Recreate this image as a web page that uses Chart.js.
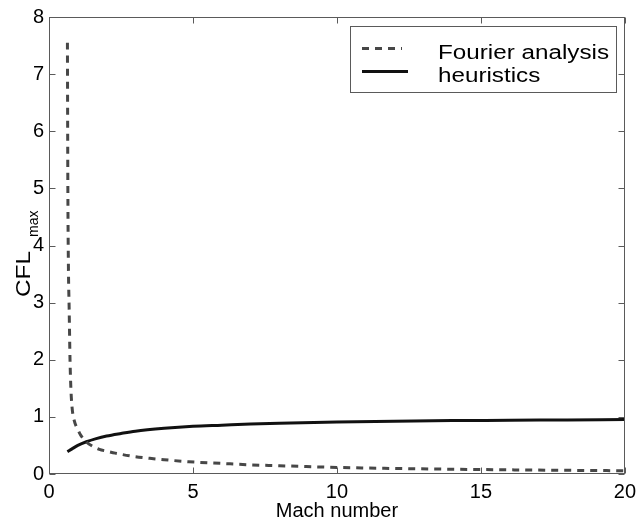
<!DOCTYPE html>
<html>
<head>
<meta charset="utf-8">
<script src="https://cdn.jsdelivr.net/npm/chart.js@4.4.1/dist/chart.umd.min.js"></script>
<style>
  html, body { margin: 0; padding: 0; background: #fff; }
  #wrap { width: 642px; height: 523px; }
</style>
</head>
<body>
<div id="wrap"><canvas id="cflChart" width="642" height="523"></canvas></div>
<script>
// Stability limit vs Mach number
const machFourier = [0.64, 0.655, 0.675, 0.70, 0.73, 0.76, 0.80, 0.88, 1.0, 1.1, 1.3, 1.5, 1.75, 2.0, 2.3, 2.9, 3.5, 4.0, 4.85, 6.0, 7.0, 8.0, 10.0, 12.0, 14.0, 16.0, 18.0, 20.0];
const cflFourier  = [7.55, 5.0, 3.6, 2.9, 2.0, 1.5, 1.17, 0.93, 0.78, 0.68, 0.56, 0.49, 0.43, 0.40, 0.365, 0.31, 0.275, 0.25, 0.215, 0.185, 0.16, 0.145, 0.115, 0.097, 0.083, 0.073, 0.064, 0.057];

const machHeur = [0.64, 0.8, 1.0, 1.3, 1.64, 2.0, 2.5, 3.0, 4.0, 5.0, 6.0, 7.0, 8.0, 10.0, 12.0, 14.0, 16.0, 18.0, 20.0];
const cflHeur  = [0.39, 0.44, 0.50, 0.565, 0.62, 0.665, 0.71, 0.75, 0.80, 0.835, 0.855, 0.875, 0.89, 0.91, 0.925, 0.935, 0.94, 0.947, 0.953];

const xTicks = [0, 5, 10, 15, 20];
const yTicks = [0, 1, 2, 3, 4, 5, 6, 7, 8];
const seriesLabels = ['Fourier analysis', 'heuristics'];

const FONT = '"Liberation Sans", Arial, Helvetica, sans-serif';
const BOX = '#5a5a5a';

function zip(xs, ys) {
    return xs.map((x, i) => ({ x: x, y: ys[i] }));
}

// text stretched horizontally to a given width
function stretchedText(ctx, text, x, y, width) {
    const w = ctx.measureText(text).width;
    ctx.save();
    ctx.translate(x, y);
    ctx.scale(width / w, 1);
    ctx.fillText(text, 0, 0);
    ctx.restore();
}

const framePlugin = {
    id: 'frame',
    afterDraw(chart) {
        const ctx = chart.ctx;
        const a = chart.chartArea;
        const xs = chart.scales.x, ys = chart.scales.y;
        const L = Math.round(a.left) + 0.5, R = Math.round(a.right) - 0.5;
        const T = Math.round(a.top) + 0.5, B = Math.round(a.bottom) - 0.5;

        ctx.save();
        ctx.strokeStyle = BOX;
        ctx.lineWidth = 1;
        ctx.setLineDash([]);
        ctx.strokeRect(L, T, R - L, B - T);

        // inward ticks on all four sides
        const tl = 6;
        ctx.beginPath();
        xTicks.forEach(v => {
            const px = Math.round(xs.getPixelForValue(v)) + 0.5;
            ctx.moveTo(px, B); ctx.lineTo(px, B - tl);
            ctx.moveTo(px, T); ctx.lineTo(px, T + tl);
        });
        yTicks.forEach(v => {
            const py = Math.round(ys.getPixelForValue(v)) + 0.5;
            ctx.moveTo(L, py); ctx.lineTo(L + tl, py);
            ctx.moveTo(R, py); ctx.lineTo(R - tl, py);
        });
        ctx.stroke();

        // axis titles
        ctx.fillStyle = '#000';
        ctx.textBaseline = 'alphabetic';
        ctx.textAlign = 'center';
        ctx.font = '20px ' + FONT;
        ctx.fillText('Mach number', (a.left + a.right) / 2, 516.5);

        ctx.save();
        ctx.translate(30, 297);
        ctx.rotate(-Math.PI / 2);
        ctx.textAlign = 'left';
        ctx.font = '21px ' + FONT;
        stretchedText(ctx, 'CFL', 0, 0, 46);
        ctx.font = '14px ' + FONT;
        ctx.fillText('max', 60, 8);
        ctx.restore();

        // legend
        const lx = 350.5, ly = 26.5, lw = 266, lh = 66;
        ctx.fillStyle = '#fff';
        ctx.fillRect(lx, ly, lw, lh);
        ctx.strokeStyle = BOX;
        ctx.lineWidth = 1;
        ctx.strokeRect(lx, ly, lw, lh);

        const rows = [
            { y: 48.5, x2: 402, text: 58.5 },
            { y: 71.5, x2: 408, text: 82 }
        ];
        chart.data.datasets.forEach((ds, i) => {
            const r = rows[i];
            ctx.strokeStyle = ds.borderColor;
            ctx.lineWidth = ds.borderWidth;
            ctx.setLineDash(ds.borderDash || []);
            ctx.beginPath();
            ctx.moveTo(362, r.y);
            ctx.lineTo(r.x2, r.y);
            ctx.stroke();
            ctx.setLineDash([]);
            ctx.fillStyle = '#000';
            ctx.textAlign = 'left';
            ctx.font = '20px ' + FONT;
            const w = i === 0 ? 171 : ctx.measureText(ds.label).width * 171 / ctx.measureText(seriesLabels[0]).width;
            stretchedText(ctx, ds.label, 438, r.text, w);
        });
        ctx.restore();
    }
};

const ctx = document.getElementById('cflChart').getContext('2d');

new Chart(ctx, {
    type: 'scatter',
    data: {
        datasets: [{
            label: seriesLabels[0],
            data: zip(machFourier, cflFourier),
            showLine: true,
            borderColor: '#474747',
            borderWidth: 3,
            borderDash: [7, 6],
            pointRadius: 0,
            cubicInterpolationMode: 'monotone'
        }, {
            label: seriesLabels[1],
            data: zip(machHeur, cflHeur),
            showLine: true,
            borderColor: '#111111',
            borderWidth: 3,
            pointRadius: 0,
            cubicInterpolationMode: 'monotone'
        }]
    },
    options: {
        responsive: false,
        animation: false,
        devicePixelRatio: 1,
        layout: { padding: { top: 14, right: 11, left: 0, bottom: 0 } },
        plugins: {
            legend: { display: false },
            tooltip: { enabled: false }
        },
        scales: {
            x: {
                type: 'linear',
                min: 0,
                max: 20,
                afterBuildTicks: s => { s.ticks = xTicks.map(v => ({ value: v })); },
                afterFit: s => { s.height = 49; },
                grid: { display: false, drawTicks: false },
                border: { display: false },
                ticks: { color: '#000', padding: 6, maxRotation: 0, font: { family: FONT, size: 20 } }
            },
            y: {
                type: 'linear',
                min: 0,
                max: 8,
                afterBuildTicks: s => { s.ticks = yTicks.map(v => ({ value: v })); },
                afterFit: s => { s.width = 49; },
                grid: { display: false, drawTicks: false },
                border: { display: false },
                ticks: { color: '#000', padding: 5, font: { family: FONT, size: 20 } }
            }
        }
    },
    plugins: [framePlugin]
});
</script>
</body>
</html>
